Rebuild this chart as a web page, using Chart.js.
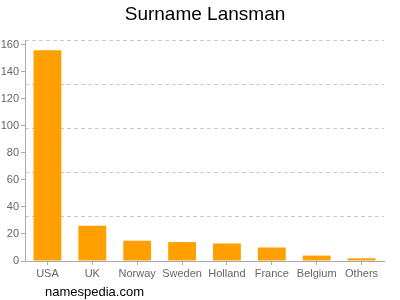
<!DOCTYPE html>
<html lang="en">
<head>
  <meta charset="UTF-8" />
  <title>Surname Lansman</title>
  <script src="https://cdn.jsdelivr.net/npm/chart.js"></script>
  <style>
    html, body { margin: 0; padding: 0; background: #fff; }
    #wrap { width: 400px; height: 300px; position: relative; }
  </style>
</head>
<body>
  <div id="wrap"><canvas id="chart" width="400" height="300"></canvas></div>

<script>
  const countries = ["USA", "UK", "Norway", "Sweden", "Holland", "France", "Belgium", "Others"];
  const counts = [156, 26, 15, 14, 13, 10, 4, 2];
  const yTicks = [0, 20, 40, 60, 80, 100, 120, 140, 160];
  const yMax = 163.5;
  const gridLines = [32.7, 65.4, 98.1, 130.8, 163.5];

  const FONT = "'Liberation Sans', Arial, sans-serif";

  // title on top, site name at the bottom
  const textPlugin = {
    id: "texts",
    afterDraw(chart) {
      const ctx = chart.ctx;
      ctx.save();
      ctx.fillStyle = "#000";
      ctx.textBaseline = "middle";
      ctx.textAlign = "center";
      ctx.font = "19px " + FONT;
      ctx.fillText("Surname Lansman", 205, 15);
      ctx.textAlign = "left";
      ctx.font = "13px " + FONT;
      ctx.fillText("namespedia.com", 45, 292);
      ctx.restore();
    }
  };

  new Chart(document.getElementById("chart"), {
    type: "bar",
    data: {
      labels: countries,
      datasets: [{
        data: counts,
        backgroundColor: "#ffa000",
        borderWidth: 0,
        categoryPercentage: 1,
        barPercentage: 0.62,
        yAxisID: "y"
      }]
    },
    options: {
      responsive: false,
      animation: false,
      layout: { padding: { left: 0, right: 16, top: 40, bottom: 0 } },
      plugins: {
        legend: { display: false },
        tooltip: { enabled: false }
      },
      scales: {
        x: {
          grid: { offset: false, drawOnChartArea: false, color: "#aaa", tickLength: 4 },
          border: { color: "#aaa" },
          ticks: { color: "#666", font: { family: FONT, size: 11 }, padding: 2,
                   maxRotation: 0, minRotation: 0, autoSkip: false },
          afterFit: s => { s.height = 39; }
        },
        y: {
          position: "left",
          min: 0,
          max: yMax,
          afterBuildTicks: s => { s.ticks = yTicks.map(v => ({ value: v })); },
          grid: { drawOnChartArea: false, color: "#aaa", tickLength: 4 },
          border: { color: "#aaa" },
          ticks: { color: "#666", font: { family: FONT, size: 11 }, padding: 2 },
          afterFit: s => { s.width = 25; }
        },
        y2: {
          position: "left",
          min: 0,
          max: yMax,
          afterBuildTicks: s => { s.ticks = gridLines.map(v => ({ value: v })); },
          grid: { color: "#c8c8c8", drawTicks: false },
          border: { display: false, dash: [4, 3] },
          ticks: { display: false },
          afterFit: s => { s.width = 0; }
        }
      }
    },
    plugins: [textPlugin]
  });
</script>
</body>
</html>
